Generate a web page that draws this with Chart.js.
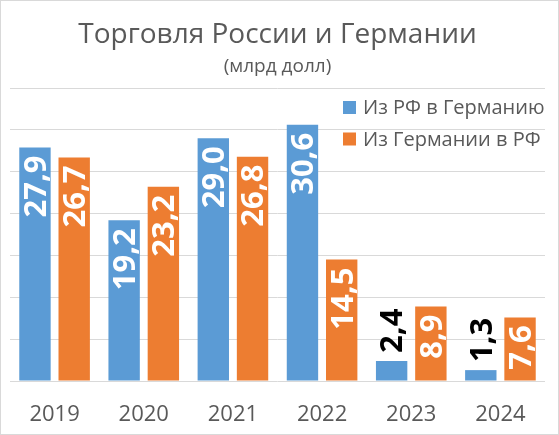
<!DOCTYPE html>
<html>
<head>
<meta charset="utf-8">
<script src="https://cdn.jsdelivr.net/npm/chart.js@4.4.1/dist/chart.umd.min.js"></script>
<style>
body { margin: 0; background: #fff; }
</style>
</head>
<body>
<canvas id="canvas" width="559" height="435"></canvas>
<script>
var years = ['2019', '2020', '2021', '2022', '2023', '2024'];
var fromRussia = [27.9, 19.2, 29.0, 30.6, 2.4, 1.3];
var fromGermany = [26.7, 23.2, 26.8, 14.5, 8.9, 7.6];
var seriesNames = ['Из РФ в Германию', 'Из Германии в РФ'];
var seriesColors = ['#5B9BD5', '#ED7D31'];
var yMax = 35;
var yStep = 5;

var FONT = '"Open Sans", "DejaVu Sans", sans-serif';
var GREY = '#595959';

// thin frame round the whole picture
var frame = {
    id: 'frame',
    beforeDraw: function(chart) {
        var ctx = chart.ctx;
        ctx.save();
        ctx.fillStyle = '#fff';
        ctx.fillRect(0, 0, chart.width, chart.height);
        ctx.strokeStyle = '#d9d9d9';
        ctx.lineWidth = 1;
        ctx.strokeRect(0.5, 0.5, chart.width - 1, chart.height - 1);
        ctx.restore();
    }
};

// legend sitting inside the plot, top right
var boxLegend = {
    id: 'boxLegend',
    beforeDatasetsDraw: function(chart) {
        var ctx = chart.ctx;
        var a = chart.chartArea;
        ctx.save();
        ctx.font = '20px ' + FONT;
        ctx.textBaseline = 'middle';
        chart.data.datasets.forEach(function(ds, i) {
            var cy = a.top + 19.5 + i * 31.5;
            ctx.fillStyle = ds.backgroundColor;
            ctx.fillRect(a.right - 202, cy - 6.5, 13, 13);
            ctx.fillStyle = GREY;
            ctx.fillText(ds.label, a.right - 182, cy + 1);
        });
        ctx.restore();
    }
};

// rotated value labels: inside the bar in white, above it in black when the bar is short
var barLabels = {
    id: 'barLabels',
    afterDatasetsDraw: function(chart) {
        var ctx = chart.ctx;
        ctx.save();
        ctx.font = 'bold 31px ' + FONT;
        ctx.textBaseline = 'middle';
        chart.data.datasets.forEach(function(ds, i) {
            var meta = chart.getDatasetMeta(i);
            meta.data.forEach(function(bar, j) {
                var v = ds.data[j];
                var txt = v.toFixed(1).replace('.', ',');
                ctx.save();
                ctx.translate(bar.x + 2, bar.y);
                ctx.rotate(-Math.PI / 2);
                if (v > 5) {
                    ctx.fillStyle = '#fff';
                    ctx.textAlign = 'right';
                    ctx.fillText(txt, -8, 0);
                } else {
                    ctx.fillStyle = '#000';
                    ctx.textAlign = 'left';
                    ctx.fillText(txt, 8, 0);
                }
                ctx.restore();
            });
        });
        ctx.restore();
    }
};

var config = {
    type: 'bar',
    data: {
        labels: years,
        datasets: [{
            label: seriesNames[0],
            data: fromRussia,
            backgroundColor: seriesColors[0],
            barPercentage: 0.8,
            categoryPercentage: 0.88
        }, {
            label: seriesNames[1],
            data: fromGermany,
            backgroundColor: seriesColors[1],
            barPercentage: 0.8,
            categoryPercentage: 0.88
        }]
    },
    options: {
        responsive: false,
        animation: false,
        layout: {
            padding: { left: 10, right: 14, top: 0, bottom: 9 }
        },
        plugins: {
            legend: { display: false },
            tooltip: { enabled: false },
            title: {
                display: true,
                text: 'Торговля России и Германии',
                color: GREY,
                font: { family: FONT, size: 28, weight: 'normal' },
                padding: { top: 18, bottom: 0 }
            },
            subtitle: {
                display: true,
                text: '(млрд долл)',
                color: GREY,
                font: { family: FONT, size: 19, weight: 'normal' },
                padding: { top: 4, bottom: 9.6 }
            }
        },
        scales: {
            x: {
                grid: { display: false, drawTicks: false },
                border: { display: false },
                ticks: {
                    color: GREY,
                    font: { family: FONT, size: 22 },
                    padding: 21,
                    maxRotation: 0
                },
                afterFit: function(scale) {
                    scale.height = 45;
                }
            },
            y: {
                min: 0,
                max: yMax,
                grid: { color: '#d9d9d9', drawTicks: false },
                border: { display: false },
                ticks: { display: false, stepSize: yStep }
            }
        }
    },
    plugins: [frame, boxLegend, barLabels]
};

var ctx = document.getElementById('canvas');
window.myChart = new Chart(ctx, config);
</script>
</body>
</html>
